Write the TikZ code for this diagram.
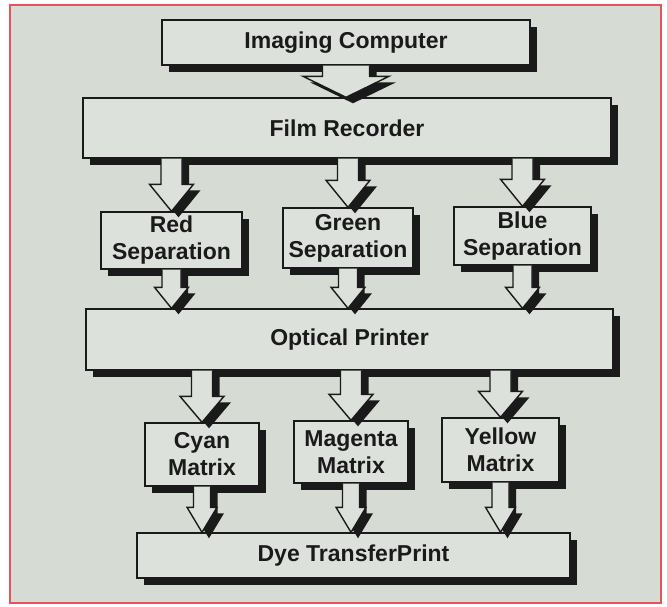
\documentclass[tikz,border=0pt]{standalone}
\usepackage{fontspec}
\setmainfont{Liberation Sans}
\usetikzlibrary{calc,shadows}
\definecolor{paper}{HTML}{D6DBD4}
\definecolor{boxfill}{HTML}{DDE1DB}
\definecolor{ink}{HTML}{1A1A1A}
\definecolor{frame}{HTML}{E8525C}
\tikzset{
  box/.style={draw=ink, line width=1.4pt, fill=boxfill, text=ink,
    font=\fontsize{23}{27}\selectfont\bfseries, align=center, inner sep=0pt,
    drop shadow={shadow xshift=7pt, shadow yshift=-7pt, fill=ink, opacity=1}},
  arrfill/.style={fill=boxfill},
  arrline/.style={draw=ink, line width=1.4pt, line join=miter},
  arrshadow/.style={fill=ink},
}
% #1 from node, #2 to node, #3 node giving the x centre, #4 shaft half width, #5 head half width, #6 head length
\newcommand{\blockarr}[6]{%
  \fill[arrshadow] let \p1=(#3.center), \p2=(#1.south), \p3=(#2.north) in
    ({\x1-#4pt+7pt},{\y2}) -- ({\x1-#4pt+7pt},{\y3+#6pt-6pt}) -- ({\x1-#5pt+7pt},{\y3+#6pt-6pt})
    -- ({\x1+7pt},{\y3-6pt}) -- ({\x1+#5pt+7pt},{\y3+#6pt-6pt}) -- ({\x1+#4pt+7pt},{\y3+#6pt-6pt})
    -- ({\x1+#4pt+7pt},{\y2}) -- cycle;
  \fill[arrfill] let \p1=(#3.center), \p2=(#1.south), \p3=(#2.north) in
    ({\x1-#4pt},{\y2}) -- ({\x1-#4pt},{\y3+#6pt}) -- ({\x1-#5pt},{\y3+#6pt})
    -- ({\x1},{\y3}) -- ({\x1+#5pt},{\y3+#6pt}) -- ({\x1+#4pt},{\y3+#6pt})
    -- ({\x1+#4pt},{\y2}) -- cycle;
  \draw[arrline] let \p1=(#3.center), \p2=(#1.south), \p3=(#2.north) in
    ({\x1-#4pt},{\y2}) -- ({\x1-#4pt},{\y3+#6pt}) -- ({\x1-#5pt},{\y3+#6pt})
    -- ({\x1},{\y3}) -- ({\x1+#5pt},{\y3+#6pt}) -- ({\x1+#4pt},{\y3+#6pt})
    -- ({\x1+#4pt},{\y2});
}
\begin{document}
\begin{tikzpicture}[x=1pt, y=-1pt]
\useasboundingbox (0,0) rectangle (667,606);
\fill[white] (0,0) rectangle (667,606);
\filldraw[fill=paper, draw=frame, line width=1.5pt] (10,5) rectangle (661,603);

\node[box, minimum width=368pt, minimum height=45pt] (ic) at (346,42.5) {Imaging Computer};
\node[box, minimum width=528pt, minimum height=60pt] (fr) at (347,128) {Film Recorder};
\node[box, minimum width=141pt, minimum height=57pt] (rs) at (171.5,240.5) {Red\\Separation};
\node[box, minimum width=130pt, minimum height=60pt] (gs) at (348,238) {Green\\Separation};
\node[box, minimum width=137pt, minimum height=58pt] (bs) at (522.5,236) {Blue\\Separation};
\node[box, minimum width=527pt, minimum height=61pt] (op) at (349.5,339.5) {Optical Printer};
\node[box, minimum width=114pt, minimum height=63pt] (cm) at (202,454.5) {Cyan\\Matrix};
\node[box, minimum width=114pt, minimum height=62pt] (mm) at (351,452) {Magenta\\Matrix};
\node[box, minimum width=117pt, minimum height=64pt] (ym) at (500.5,450) {Yellow\\Matrix};
\node[box, minimum width=433pt, minimum height=45pt] (dt) at (353.5,555.5) {Dye TransferPrint};

\blockarr{ic}{fr}{ic}{23.5}{43}{21}
\blockarr{fr}{rs}{rs}{10.5}{22}{27}
\blockarr{fr}{gs}{gs}{10.5}{22}{27}
\blockarr{fr}{bs}{bs}{10.5}{22}{27}
\blockarr{rs}{op}{rs}{9.5}{17}{21}
\blockarr{gs}{op}{gs}{9.5}{17}{21}
\blockarr{bs}{op}{bs}{9.5}{17}{21}
\blockarr{op}{cm}{cm}{10.5}{22}{26}
\blockarr{op}{mm}{mm}{10.5}{22}{26}
\blockarr{op}{ym}{ym}{10.5}{22}{26}
\blockarr{cm}{dt}{cm}{8.5}{15}{25}
\blockarr{mm}{dt}{mm}{8.5}{15}{25}
\blockarr{ym}{dt}{ym}{8.5}{15}{25}
\end{tikzpicture}
\end{document}
